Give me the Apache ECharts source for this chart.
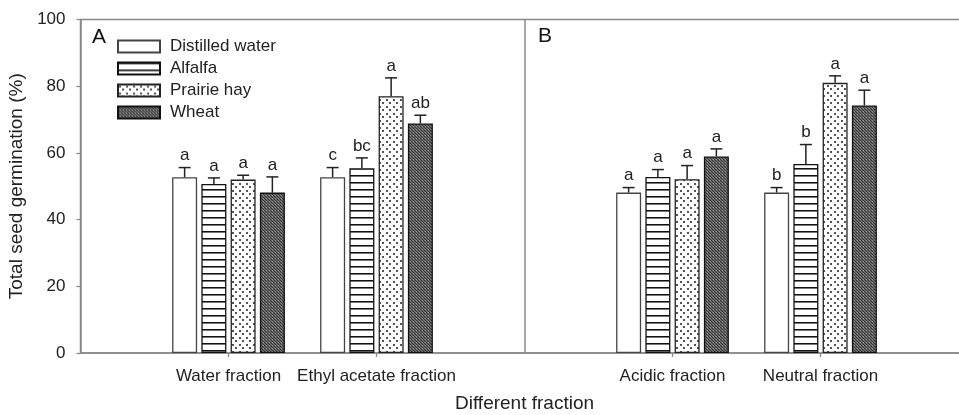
<!DOCTYPE html>
<html><head><meta charset="utf-8">
<script src="https://cdn.jsdelivr.net/npm/echarts@6/dist/echarts.min.js"></script>
<style>html,body{margin:0;padding:0;background:#fff}#c{width:959px;height:415px}</style>
</head><body><div id="c"></div>
<script>
// ---- data ----
const categories = ['', 'Water fraction', 'Ethyl acetate fraction', '', 'Acidic fraction', 'Neutral fraction', ''];
const seriesNames = ['Distilled water', 'Alfalfa', 'Prairie hay', 'Wheat'];
const distilledWater = [null, 52.7, 52.7, null, 48.1, 48.1, null];
const alfalfa        = [null, 50.7, 55.4, null, 52.8, 56.7, null];
const prairieHay     = [null, 52.0, 77.0, null, 52.1, 81.0, null];
const wheat          = [null, 48.1, 68.8, null, 58.9, 74.2, null];
const distilledWaterErr = [null, 2.9, 2.9, null, 1.5, 1.5, null];
const alfalfaErr        = [null, 1.8, 3.1, null, 2.2, 5.8, null];
const prairieHayErr     = [null, 1.3, 5.5, null, 4.1, 2.1, null];
const wheatErr          = [null, 4.7, 2.5, null, 2.3, 4.6, null];
const distilledWaterLetters = ['', 'a', 'c', '', 'a', 'b', ''];
const alfalfaLetters        = ['', 'a', 'bc', '', 'a', 'b', ''];
const prairieHayLetters     = ['', 'a', 'a', '', 'a', 'a', ''];
const wheatLetters          = ['', 'a', 'ab', '', 'a', 'a', ''];
const dividerIndex = 3;
const yMin = 0, yMax = 100, yInterval = 20;
const panelLabels = ['A', 'B'];

// ---- styling ----
const FONT = '"Liberation Sans", Arial, sans-serif';
const BAR_W = 25, BAR_GAP = 0.17;

function tile(w, h, draw) {
  const c = document.createElement('canvas');
  c.width = w; c.height = h;
  const g = c.getContext('2d');
  draw(g);
  return c;
}
const patWhite = '#ffffff';
const patStripes = tile(6, 7, g => {
  g.fillStyle = '#fff'; g.fillRect(0, 0, 6, 7);
  g.fillStyle = '#111'; g.fillRect(0, 0, 6, 1);
  g.fillStyle = '#777'; g.fillRect(0, 1, 6, 1);
});
const patDots = tile(7, 7, g => {
  g.fillStyle = '#fff'; g.fillRect(0, 0, 7, 7);
  g.fillStyle = '#555';
  g.fillRect(1, 1, 2, 2);
  g.fillRect(4, 4, 2, 2);
});
const patDark = tile(3, 3, g => {
  g.fillStyle = '#6a6a6a'; g.fillRect(0, 0, 3, 3);
  g.fillStyle = '#333';
  g.fillRect(0, 0, 1, 1); g.fillRect(1, 1, 1, 1); g.fillRect(2, 2, 1, 1);
  g.fillStyle = '#999';
  g.fillRect(2, 0, 1, 1);
});
const fills = [
  patWhite,
  { image: patStripes, repeat: 'repeat' },
  { image: patDots, repeat: 'repeat' },
  { image: patDark, repeat: 'repeat' }
];
const borders = ['#444', '#111', '#222', '#111'];

const values = [distilledWater, alfalfa, prairieHay, wheat];
const errs = [distilledWaterErr, alfalfaErr, prairieHayErr, wheatErr];
const letters = [distilledWaterLetters, alfalfaLetters, prairieHayLetters, wheatLetters];

const series = [];
values.forEach((vals, k) => {
  series.push({
    type: 'bar', name: seriesNames[k], data: vals,
    barWidth: BAR_W, barGap: (BAR_GAP * 100) + '%',
    itemStyle: { color: fills[k], borderColor: borders[k], borderWidth: 1.3 },
    emphasis: { disabled: true }, z: 2
  });
});
values.forEach((vals, k) => {
  const idxs = [];
  const data = [];
  vals.forEach((v, i) => { if (v != null) { data.push([i, v, errs[k][i]]); idxs.push(i); } });
  const offset = (k - 1.5) * BAR_W * (1 + BAR_GAP);
  const s = {
    type: 'custom', name: seriesNames[k] + ' SE', data: data, z: 5, silent: true,
    renderItem: function (params, api) {
      const base = api.coord([api.value(0), api.value(1)]);
      const top = api.coord([api.value(0), api.value(1) + api.value(2)]);
      const cx = base[0] + offset;
      const letter = letters[k][idxs[params.dataIndex]];
      return {
        type: 'group', children: [
          { type: 'line', shape: { x1: cx, y1: base[1], x2: cx, y2: top[1] }, style: { stroke: '#222', lineWidth: 1.5 } },
          { type: 'line', shape: { x1: cx - 6, y1: top[1], x2: cx + 6, y2: top[1] }, style: { stroke: '#222', lineWidth: 1.5 } },
          { type: 'text', style: { x: cx, y: top[1] - 12, text: letter, align: 'center', verticalAlign: 'middle', fontSize: 17, fontFamily: FONT, fill: '#222' } }
        ]
      };
    }
  };
  if (k === 0) {
    s.markLine = {
      silent: true, symbol: 'none', label: { show: false },
      lineStyle: { color: '#888', width: 1.5, type: 'solid' },
      data: [{ xAxis: dividerIndex }]
    };
  }
  series.push(s);
});

const chart = echarts.init(document.getElementById('c'), null, { renderer: 'canvas' });
chart.setOption({
  animation: false,
  backgroundColor: '#fff',
  textStyle: { fontFamily: FONT },
  grid: { left: 80.5, top: 19.5, width: 888, height: 333.5, outerBoundsMode: 'none', containLabel: false, show: true, borderColor: '#888', borderWidth: 1.5, backgroundColor: 'transparent' },
  legend: {
    data: seriesNames, orient: 'vertical', left: 117, top: 38, padding: 0,
    itemWidth: 42, itemHeight: 12, itemGap: 5, icon: 'rect', selectedMode: false,
    textStyle: { fontSize: 17, color: '#222', padding: [0, 0, 0, 5] }
  },
  xAxis: {
    type: 'category', data: categories, boundaryGap: false,
    axisLine: { lineStyle: { color: '#888', width: 1.5 } },
    axisTick: { length: 4, lineStyle: { color: '#888', width: 1.2 }, interval: (i, v) => v !== '' },
    axisLabel: { interval: 0, fontSize: 17, color: '#222', margin: 15 },
    splitLine: { show: false },
    name: 'Different fraction', nameLocation: 'middle', nameGap: 41,
    nameTextStyle: { fontSize: 19, color: '#222' }
  },
  yAxis: {
    type: 'value', min: yMin, max: yMax, interval: yInterval,
    axisLine: { show: true, lineStyle: { color: '#888', width: 1.5 } },
    axisTick: { show: true, length: 4, lineStyle: { color: '#888', width: 1.2 } },
    axisLabel: { fontSize: 17, color: '#222', margin: 15 },
    splitLine: { show: false },
    name: 'Total seed germination (%)', nameLocation: 'middle', nameGap: 42,
    nameTextStyle: { fontSize: 19, color: '#222' }
  },
  graphic: [
    { type: 'text', x: 92, y: 37, style: { text: panelLabels[0], fontSize: 21, fontFamily: FONT, fill: '#111', verticalAlign: 'middle' } },
    { type: 'text', x: 538, y: 36, style: { text: panelLabels[1], fontSize: 21, fontFamily: FONT, fill: '#111', verticalAlign: 'middle' } }
  ],
  series: series
});
</script>
</body></html>
